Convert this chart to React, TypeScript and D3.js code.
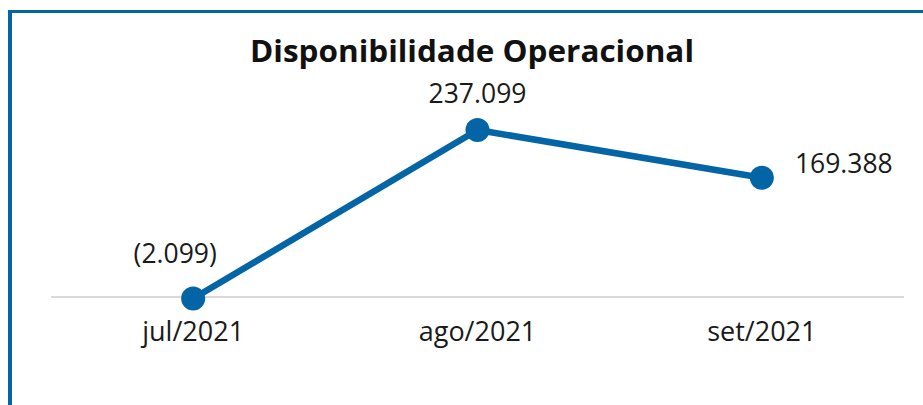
import React, { useEffect, useRef } from "react";
import * as d3 from "d3";

// months and operational availability (R$ mil)
const months = ["jul/2021", "ago/2021", "set/2021"];
const disponibilidade = [-2099, 237099, 169388];

const W = 923;
const H = 405;
const BLUE = "#0465a6";
const FONT = "'Open Sans', 'DejaVu Sans', sans-serif";

// where each value label sits relative to its point
const labelShift = [
  { dx: -18, dy: -35, anchor: "middle" },
  { dx: 0, dy: -27, anchor: "middle" },
  { dx: 82, dy: -5, anchor: "middle" },
];

const ptBR = d3.formatLocale({
  decimal: ",",
  thousands: ".",
  grouping: [3],
  currency: ["R$", ""],
});
const fmt = ptBR.format("(,.0f");

export default function App() {
  const ref = useRef<SVGSVGElement>(null);

  useEffect(() => {
    const svg = d3.select(ref.current);
    svg.selectAll("*").remove();

    // card frame (only left and top edges visible)
    svg.append("rect").attr("x", 8).attr("y", 10).attr("width", 4).attr("height", H - 10).attr("fill", BLUE);
    svg.append("rect").attr("x", 8).attr("y", 10).attr("width", W - 8).attr("height", 3).attr("fill", BLUE);

    svg
      .append("text")
      .attr("x", 472)
      .attr("y", 62)
      .attr("text-anchor", "middle")
      .attr("font-family", FONT)
      .attr("font-weight", "bold")
      .attr("font-size", 30)
      .attr("fill", "#111")
      .attr("textLength", 444)
      .attr("lengthAdjust", "spacingAndGlyphs")
      .text("Disponibilidade Operacional");

    const x = d3.scalePoint<string>().domain(months).range([51, 904]).padding(0.5);
    const y = d3.scaleLinear().domain([0, 237099]).range([297, 130]);

    // zero line
    svg
      .append("line")
      .attr("x1", 51)
      .attr("x2", 904)
      .attr("y1", y(0))
      .attr("y2", y(0))
      .attr("stroke", "#d9d9d9")
      .attr("stroke-width", 2);

    const data = months.map((m, i) => ({ m, v: disponibilidade[i], i }));

    const line = d3
      .line<{ m: string; v: number }>()
      .x((d) => x(d.m)!)
      .y((d) => y(d.v));

    svg
      .append("path")
      .datum(data)
      .attr("d", line)
      .attr("fill", "none")
      .attr("stroke", BLUE)
      .attr("stroke-width", 6.5)
      .attr("stroke-linejoin", "round");

    svg
      .selectAll("circle.pt")
      .data(data)
      .enter()
      .append("circle")
      .attr("class", "pt")
      .attr("cx", (d) => x(d.m)!)
      .attr("cy", (d) => y(d.v))
      .attr("r", 12)
      .attr("fill", BLUE);

    svg
      .selectAll("text.val")
      .data(data)
      .enter()
      .append("text")
      .attr("class", "val")
      .attr("x", (d) => x(d.m)! + labelShift[d.i].dx)
      .attr("y", (d) => y(d.v) + labelShift[d.i].dy)
      .attr("text-anchor", (d) => labelShift[d.i].anchor)
      .attr("font-family", FONT)
      .attr("font-size", 26.5)
      .attr("fill", "#1a1a1a")
      .text((d) => fmt(d.v));

    // category labels
    svg
      .selectAll("text.cat")
      .data(months)
      .enter()
      .append("text")
      .attr("class", "cat")
      .attr("x", (d) => x(d)!)
      .attr("y", 341)
      .attr("text-anchor", "middle")
      .attr("font-family", FONT)
      .attr("font-size", 27)
      .attr("fill", "#1a1a1a")
      .text((d) => d);
  }, []);

  return (
    <svg
      ref={ref}
      width={W}
      height={H}
      style={{ position: "absolute", left: 0, top: 0, background: "#fff" }}
    />
  );
}
